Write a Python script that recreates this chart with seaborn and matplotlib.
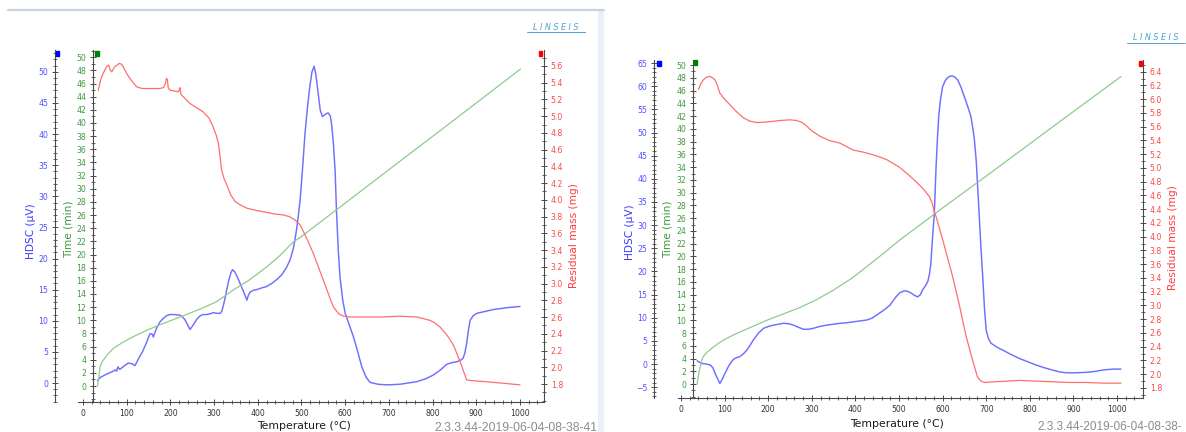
import numpy as np
import matplotlib
matplotlib.use("Agg")
import matplotlib.pyplot as plt
import seaborn as sns
from matplotlib.ticker import MultipleLocator, FixedLocator, FormatStrFormatter
from matplotlib.patches import Rectangle
from matplotlib.lines import Line2D

# ---------------- data: left run ----------------
left_hdsc_temp = [33, 40, 50, 60, 69, 74, 77, 80, 84, 90, 97, 104, 112, 119, 127, 136, 146, 153, 158, 161,
                  165, 169, 176, 184, 191, 199, 210, 222, 228, 233, 239, 245, 252, 260, 268, 275, 283, 290,
                  298, 306, 314, 318, 321, 325, 329, 334, 338, 342, 347, 352, 357, 363, 369, 375, 378, 382,
                  390, 397, 410, 420, 432, 443, 455, 466, 474, 481, 485, 489, 493, 497, 503, 508, 514, 519,
                  524, 529, 533, 538, 543, 548, 555, 561, 566, 569, 573, 577, 580, 584, 588, 594, 600, 610,
                  619, 628, 638, 648, 657, 675, 695, 725, 763, 785, 802, 818, 832, 845, 855, 865, 870, 874,
                  878, 882, 886, 893, 901, 920, 939, 970, 1000]
left_hdsc_uv = [0.4, 0.9, 1.3, 1.6, 1.9, 2.1, 1.9, 2.6, 2.2, 2.5, 2.9, 3.2, 3.1, 2.8, 3.9, 5.0, 6.6, 7.9, 7.9, 7.4,
                8.2, 8.9, 9.8, 10.4, 10.8, 11.0, 11.0, 10.9, 10.6, 10.2, 9.4, 8.6, 9.3, 10.2, 10.8, 11.0, 11.0, 11.1,
                11.3, 11.2, 11.2, 11.6, 12.4, 13.6, 15.0, 16.6, 17.6, 18.2, 17.9, 17.2, 16.4, 15.4, 14.4, 13.3, 14.0, 14.6,
                14.9, 15.0, 15.3, 15.5, 16.0, 16.6, 17.4, 18.6, 19.8, 21.5, 23.0, 24.8, 27.0, 29.5, 35.0, 40.1, 44.5, 47.6,
                50.0, 50.9, 49.5, 46.6, 43.8, 42.8, 43.2, 43.4, 42.9, 41.5, 38.5, 34.0, 27.8, 21.5, 17.1, 13.5, 11.2, 9.2,
                7.4, 5.2, 2.6, 0.9, 0.1, -0.2, -0.3, -0.2, 0.2, 0.7, 1.3, 2.1, 3.0, 3.3, 3.4, 3.7, 4.0, 4.9,
                6.4, 8.5, 10.1, 10.8, 11.2, 11.5, 11.8, 12.1, 12.3]

left_time_temp = [33, 35, 37, 39, 42, 46, 55, 69, 90, 115, 150, 191, 230, 268, 305, 344, 380, 420, 450, 481,
                  497, 580, 700, 850, 1001]
left_time_min = [0.0, 0.8, 1.8, 2.9, 3.4, 3.9, 4.7, 5.7, 6.6, 7.5, 8.6, 9.7, 10.7, 11.7, 12.8, 14.6, 16.1, 18.1,
                 19.8, 21.9, 22.6, 26.8, 32.9, 40.5, 48.2]

left_mass_temp = [35, 40, 43, 48, 54, 59, 62, 66, 70, 73, 78, 83, 88, 92, 96, 100, 110, 118, 123, 135, 146, 160,
                  175, 184, 188, 191, 193, 195, 199, 210, 218, 220, 222, 224, 230, 245, 260, 275, 288, 298, 305,
                  310, 314, 317, 323, 329, 338, 348, 360, 375, 400, 420, 440, 458, 472, 485, 497, 512, 527, 540,
                  550, 562, 573, 585, 596, 610, 634, 680, 725, 764, 780, 794, 805, 817, 829, 840, 848, 855, 862,
                  867, 873, 878, 890, 916, 960, 1000]
left_mass_mg = [5.31, 5.42, 5.47, 5.53, 5.59, 5.61, 5.55, 5.53, 5.57, 5.59, 5.61, 5.63, 5.62, 5.59, 5.55, 5.51,
                5.43, 5.38, 5.35, 5.33, 5.33, 5.33, 5.33, 5.34, 5.38, 5.45, 5.44, 5.34, 5.31, 5.30, 5.29, 5.31,
                5.34, 5.26, 5.23, 5.15, 5.10, 5.05, 4.98, 4.87, 4.77, 4.67, 4.50, 4.36, 4.25, 4.18, 4.06, 3.98,
                3.94, 3.90, 3.87, 3.85, 3.83, 3.82, 3.80, 3.76, 3.70, 3.54, 3.36, 3.18, 3.04, 2.87, 2.72, 2.64,
                2.61, 2.60, 2.60, 2.60, 2.61, 2.60, 2.58, 2.56, 2.53, 2.48, 2.41, 2.33, 2.26, 2.17, 2.08, 2.01,
                1.92, 1.85, 1.84, 1.83, 1.81, 1.79]

# ---------------- data: right run ----------------
right_hdsc_temp = [37, 42, 47, 57, 67, 73, 78, 84, 89, 95, 101, 110, 120, 128, 135, 143, 151, 158, 166, 177, 189,
                   200, 212, 224, 235, 247, 258, 270, 281, 292, 303, 318, 334, 350, 365, 380, 395, 410, 426, 438,
                   449, 460, 470, 479, 493, 502, 512, 520, 528, 536, 543, 549, 554, 560, 566, 570, 573, 577, 581,
                   585, 588, 591, 595, 600, 606, 612, 618, 623, 629, 635, 642, 650, 658, 665, 670, 673, 677, 680,
                   684, 688, 692, 696, 700, 705, 711, 725, 738, 756, 776, 795, 814, 833, 852, 868, 883, 905, 929,
                   950, 967, 990, 1009]
right_hdsc_uv = [0.7, 0.4, 0.15, 0.0, -0.2, -0.8, -2.0, -3.2, -4.2, -3.2, -2.0, -0.3, 1.0, 1.4, 1.6, 2.2, 3.0, 4.0,
                 5.2, 6.6, 7.7, 8.1, 8.4, 8.6, 8.8, 8.7, 8.4, 7.9, 7.5, 7.5, 7.7, 8.1, 8.4, 8.6, 8.8, 8.9, 9.1, 9.3,
                 9.5, 9.9, 10.6, 11.3, 12.0, 12.7, 14.5, 15.4, 15.8, 15.7, 15.3, 14.8, 14.5, 15.0, 16.0, 16.8, 17.8,
                 19.5, 21.7, 27.5, 32.5, 42.6, 48.5, 53.4, 57.0, 59.9, 61.2, 61.9, 62.2, 62.2, 61.9, 61.3, 59.8, 57.7,
                 55.5, 53.4, 50.5, 48.4, 44.0, 39.0, 32.0, 25.0, 18.9, 12.0, 7.3, 5.5, 4.5, 3.6, 3.0, 2.1, 1.2, 0.5,
                 -0.2, -0.8, -1.3, -1.7, -1.9, -1.9, -1.8, -1.6, -1.3, -1.1, -1.1]

right_time_temp = [37, 39, 41, 44, 47, 51, 60, 74, 95, 120, 160, 197, 235, 273, 310, 349, 390, 426, 470, 502,
                   600, 700, 850, 1009]
right_time_min = [0.0, 0.9, 1.8, 2.7, 3.5, 4.3, 5.0, 5.8, 6.8, 7.7, 8.9, 10.0, 11.0, 12.0, 13.2, 14.7, 16.5,
                  18.4, 20.8, 22.6, 27.6, 32.6, 40.2, 48.2]

right_mass_temp = [40, 45, 51, 58, 67, 73, 78, 84, 89, 100, 112, 127, 143, 158, 174, 200, 227, 250, 265, 278, 288,
                   300, 319, 340, 365, 380, 395, 418, 441, 460, 472, 488, 501, 520, 539, 555, 570, 577, 581, 585,
                   600, 623, 640, 654, 668, 680, 688, 696, 720, 750, 776, 810, 852, 890, 929, 970, 1009]
right_mass_mg = [6.14, 6.22, 6.28, 6.32, 6.33, 6.31, 6.28, 6.19, 6.09, 6.00, 5.92, 5.82, 5.73, 5.68, 5.66, 5.67,
                 5.69, 5.70, 5.69, 5.66, 5.61, 5.54, 5.46, 5.40, 5.36, 5.31, 5.26, 5.23, 5.19, 5.15, 5.12, 5.06,
                 5.01, 4.91, 4.80, 4.70, 4.58, 4.47, 4.36, 4.29, 3.96, 3.42, 2.96, 2.55, 2.22, 1.96, 1.90, 1.88,
                 1.89, 1.90, 1.91, 1.90, 1.89, 1.88, 1.88, 1.87, 1.87]

x_label = "Temperature (°C)"
hdsc_label = "HDSC (µV)"
time_label = "Time (min)"
mass_label = "Residual mass (mg)"
version_text_left = "2.3.3.44-2019-06-04-08-38-41"
version_text_right = "2.3.3.44-2019-06-04-08-38-"

# ---------------- styling ----------------
W, H = 1186, 432
sns.set_theme(style="white")
plt.rcParams['font.family'] = ['DejaVu Sans']

BLUE_LINE, GREEN_LINE, RED_LINE = '#6e6eff', '#8fca8f', '#ff6e6e'
BLUE_TXT, GREEN_TXT, RED_TXT = '#5050ff', '#3f9a3f', '#ff4646'
SPINE = '#4a4a4a'

fig = plt.figure(figsize=(W / 100, H / 100), dpi=100)
fig.patch.set_facecolor('white')


def fx(px):
    return px / W


def fy(py):
    return 1 - py / H


def style_y(axis, side, first, last, major, minor, lab_color, fmt=None):
    axis.yaxis.set_major_locator(FixedLocator(np.round(np.arange(first, last + major / 2, major), 3)))
    axis.yaxis.set_minor_locator(MultipleLocator(minor))
    if fmt:
        axis.yaxis.set_major_formatter(FormatStrFormatter(fmt))
    axis.tick_params(axis='y', which='major', direction='inout', length=4.5, width=0.7,
                     color=SPINE, labelcolor=lab_color, labelsize=5.6, pad=2.6,
                     left=(side == 'left'), right=(side == 'right'),
                     labelleft=(side == 'left'), labelright=(side == 'right'))
    axis.tick_params(axis='y', which='minor', direction='inout', length=2.6, width=0.6,
                     color=SPINE, left=(side == 'left'), right=(side == 'right'))


def panel(box, blue_x, green_x, xlim, blue_lim, green_lim, red_lim, blue_ticks, data, squares):
    l, r, t, b = box
    ax = fig.add_axes([fx(l), fy(b), fx(r) - fx(l), fy(t) - fy(b)])
    ax.set_facecolor('none')
    gax = ax.twinx()
    rax = ax.twinx()
    width = r - l

    hT, hV, tT, tV, mT, mV = data
    sns.lineplot(x=hT, y=hV, ax=ax, color=BLUE_LINE, lw=1.05, sort=False, estimator=None)
    sns.lineplot(x=tT, y=tV, ax=gax, color=GREEN_LINE, lw=0.9, sort=False, estimator=None)
    sns.lineplot(x=mT, y=mV, ax=rax, color=RED_LINE, lw=0.9, sort=False, estimator=None)

    ax.set_xlim(*xlim)
    ax.set_ylim(*blue_lim)
    gax.set_ylim(*green_lim)
    rax.set_ylim(*red_lim)

    for a in (ax, gax, rax):
        a.set_xlabel('')
        a.set_ylabel('')
        a.grid(False)
        for s in a.spines.values():
            s.set_visible(False)
            s.set_color(SPINE)
            s.set_linewidth(0.8)

    ax.spines['bottom'].set_visible(True)
    ax.spines['left'].set_visible(True)
    ax.spines['left'].set_position(('axes', (blue_x - l) / width))
    gax.spines['left'].set_visible(True)
    gax.spines['left'].set_position(('axes', (green_x - l) / width))
    gax.yaxis.set_ticks_position('left')
    rax.spines['right'].set_visible(True)

    ax.xaxis.set_major_locator(MultipleLocator(100))
    ax.xaxis.set_minor_locator(MultipleLocator(20))
    ax.tick_params(axis='x', which='major', direction='inout', length=4.5, width=0.7, color=SPINE,
                   labelcolor='#333333', labelsize=5.6, pad=2.5, bottom=True)
    ax.tick_params(axis='x', which='minor', direction='inout', length=2.6, width=0.6, color=SPINE,
                   bottom=True)

    style_y(ax, 'left', blue_ticks[0], blue_ticks[1], 5, 1, BLUE_TXT)
    style_y(gax, 'left', 0, 50, 2, 1, GREEN_TXT)
    style_y(rax, 'right', 1.8, red_lim[1], 0.2, 0.1, RED_TXT, '%.1f')

    for (x0, y0, col) in squares:
        fig.add_artist(Rectangle((fx(x0), fy(y0 + 5)), fx(3.5), 5 / H, color=col,
                                 transform=fig.transFigure))
    return ax


# panel frames
fig.add_artist(Line2D([fx(8), fx(604)], [fy(10), fy(10)], color='#c6d3e5', lw=1.6,
                      transform=fig.transFigure))
fig.add_artist(Rectangle((fx(598), 0), fx(6), fy(10), color='#ebf0f7', transform=fig.transFigure, lw=0))

panel((78, 544, 50, 402), 55, 93, (-11.4, 1054.9), (-3.05, 53.5), (-2.43, 51.1), (1.585, 5.79), (0, 50),
      (left_hdsc_temp, left_hdsc_uv, left_time_temp, left_time_min, left_mass_temp, left_mass_mg),
      [(56, 51, '#0000ff'), (95, 51, '#008000'), (538.5, 51, '#ff0000')])

panel((678, 1143, 60, 398), 654, 693, (-6.9, 1059.6), (-7.34, 65.66), (-2.19, 50.8), (1.654, 6.57), (-5, 65),
      (right_hdsc_temp, right_hdsc_uv, right_time_temp, right_time_min, right_mass_temp, right_mass_mg),
      [(657, 60.5, '#0000ff'), (694, 60, '#008000'), (1138.5, 60.5, '#ff0000')])

# axis titles
lab_kw = dict(rotation=90, ha='center', va='center', fontsize=7.6)
fig.text(fx(31), fy(231), hdsc_label, color='#3a3aff', **lab_kw)
fig.text(fx(69), fy(229), time_label, color='#3c993c', **lab_kw)
fig.text(fx(574), fy(236), mass_label, color='#ff3c3c', **lab_kw)
fig.text(fx(630), fy(232), hdsc_label, color='#3a3aff', **lab_kw)
fig.text(fx(668), fy(229), time_label, color='#3c993c', **lab_kw)
fig.text(fx(1173), fy(238), mass_label, color='#ff3c3c', **lab_kw)

fig.text(fx(304), fy(426), x_label, ha='center', va='center', fontsize=7.8, color='#1a1a1a')
fig.text(fx(897), fy(424), x_label, ha='center', va='center', fontsize=7.8, color='#1a1a1a')

fig.text(fx(597), fy(428), version_text_left, ha='right', va='center', fontsize=8.7, color='#8c8c8c',
         family=['Liberation Sans'])
fig.text(fx(1182), fy(427), version_text_right, ha='right', va='center', fontsize=8.5, color='#8c8c8c',
         family=['Liberation Sans'])

# LINSEIS marks
for cx, cy in [(556, 27), (1156, 38)]:
    fig.text(fx(cx), fy(cy), "L I N S E I S", ha='center', va='center', fontsize=5.8,
             fontstyle='italic', color='#4d9fd3')
    fig.add_artist(Line2D([fx(cx - 29), fx(cx + 29)], [fy(cy + 5), fy(cy + 5)], color='#4d9fd3',
                          lw=0.7, transform=fig.transFigure))

fig.savefig('out.png', dpi=100, facecolor='white')
